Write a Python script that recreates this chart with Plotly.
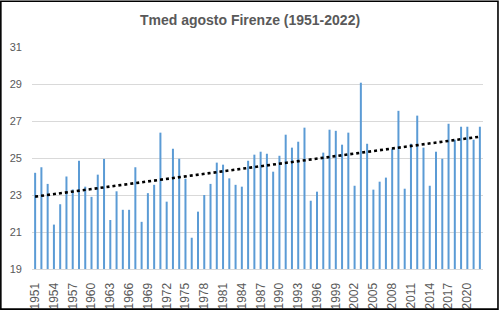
import numpy as np
import plotly.graph_objects as go

years = list(range(1951, 2023))
tmed = [24.2, 24.5, 23.6, 21.4, 22.5, 24.0, 23.3, 24.85, 23.45, 22.9,
        24.1, 24.95, 21.65, 23.2, 22.2, 22.2, 24.5, 21.55, 23.1, 23.55,
        26.37, 22.64, 25.5, 24.96, 23.88, 20.69, 22.1, 23.0, 23.6, 24.75,
        24.64, 23.9, 23.55, 23.45, 24.85, 25.18, 25.34, 25.23, 24.26, 25.12,
        26.26, 25.56, 25.88, 26.64, 22.69, 23.18, 25.29, 26.53, 26.47, 25.72,
        26.37, 23.5, 29.07, 25.77, 23.29, 23.72, 23.94, 25.5, 27.55, 23.34,
        25.77, 27.29, 25.56, 23.5, 25.34, 24.96, 26.85, 25.99, 26.69, 26.69,
        25.99, 26.69]
tick_years = list(range(1951, 2023, 3))
y_ticks = [19, 21, 23, 25, 27, 29, 31]
title = "Tmed agosto Firenze (1951-2022)"

slope, intercept = np.polyfit(years, tmed, 1)
trend = [slope * y + intercept for y in years]

W, H = 500, 311
ml, mr, mt, mb = 32, 16.5, 47, 41.7
pw, ph = W - ml - mr, H - mt - mb

grey = "#595959"
font = "Liberation Sans, Arial, sans-serif"

fig = go.Figure()
fig.add_trace(go.Bar(x=years, y=[v - 19 for v in tmed], base=19,
                     marker=dict(color="#5B9BD5", line=dict(width=0)),
                     hoverinfo="skip", showlegend=False))
fig.add_trace(go.Scatter(x=years, y=trend, mode="lines",
                         line=dict(color="black", width=2.6, dash="dot"),
                         showlegend=False))

def px_x(p):
    return (p - ml) / pw

def px_y(p):
    return (H - mb - p) / ph

fig.add_shape(type="rect", xref="paper", yref="paper",
              x0=px_x(0.8), x1=px_x(498.5), y0=px_y(309.5), y1=px_y(1.2),
              line=dict(color="black", width=1.6), layer="above")

fig.update_layout(
    width=W, height=H,
    margin=dict(l=ml, r=mr, t=mt, b=mb, pad=0, autoexpand=False),
    paper_bgcolor="white", plot_bgcolor="white",
    bargap=0.68,
    title=dict(text="<b>" + title + "</b>", x=0.5, xanchor="center",
               y=1 - 20 / H, yanchor="middle",
               font=dict(family=font, size=14, color=grey)),
    xaxis=dict(range=[1950.5, 2022.5], tickmode="array", tickvals=tick_years,
               ticktext=[str(t) for t in tick_years], tickangle=-90,
               showgrid=False, zeroline=False, showline=True,
               linecolor="#D9D9D9", linewidth=1, ticks="",
               ticklabelstandoff=8, automargin=False,
               tickfont=dict(family=font, size=12, color=grey)),
    yaxis=dict(range=[19, 31], tickmode="array", tickvals=y_ticks,
               showgrid=True, gridcolor="#D9D9D9", gridwidth=1,
               zeroline=False, showline=False, ticks="",
               ticklabelstandoff=9, automargin=False,
               tickfont=dict(family=font, size=11, color=grey)),
)

fig.write_html("out.html")
